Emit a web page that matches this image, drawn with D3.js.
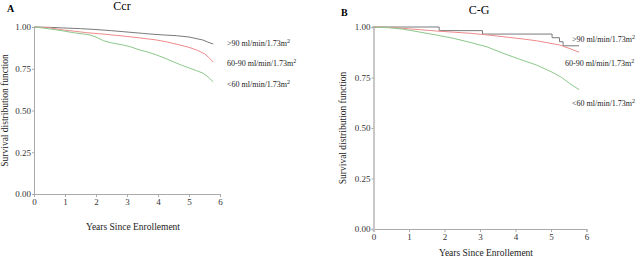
<!DOCTYPE html>
<html>
<head>
<meta charset="utf-8">
<script src="https://cdn.jsdelivr.net/npm/d3@7"></script>
<style>
  body { margin: 0; background: #fff; }
  svg { display: block; font-family: "Liberation Serif", "DejaVu Serif", serif; }
</style>
</head>
<body>
<div id="chart"></div>
<script>
// years / survival
var xTicks = [0, 1, 2, 3, 4, 5, 6];
var yTicks = [0, 0.25, 0.5, 0.75, 1];
var groupLabels = [">90 ml/min/1.73m", "60-90 ml/min/1.73m", "<60 ml/min/1.73m"];

var ccrHighT = [0, 0.5, 1.0, 1.5, 1.9, 2.5, 3.0, 3.5, 3.74, 4.2, 4.6, 5.0, 5.45, 5.6, 5.78];
var ccrHighS = [1, 0.998, 0.994, 0.99, 0.986, 0.978, 0.97, 0.962, 0.958, 0.952, 0.948, 0.94, 0.922, 0.91, 0.898];
var ccrMidT = [0, 0.5, 0.95, 1.3, 1.7, 2.2, 2.87, 3.4, 3.96, 4.3, 4.71, 5.0, 5.25, 5.5, 5.65, 5.78];
var ccrMidS = [1, 0.995, 0.982, 0.975, 0.966, 0.958, 0.946, 0.935, 0.922, 0.91, 0.892, 0.878, 0.862, 0.84, 0.815, 0.79];
var ccrLowT = [0, 0.25, 0.52, 0.9, 1.27, 1.6, 1.81, 2.0, 2.24, 2.5, 2.88, 3.1, 3.42, 3.7, 3.96, 4.2, 4.49, 4.75, 5.03, 5.25, 5.46, 5.62, 5.78];
var ccrLowS = [1, 0.995, 0.988, 0.978, 0.966, 0.958, 0.952, 0.94, 0.918, 0.905, 0.892, 0.882, 0.862, 0.848, 0.832, 0.815, 0.792, 0.772, 0.753, 0.738, 0.723, 0.7, 0.672];

var cgHighT = [0, 1.85, 3.07, 5.03, 5.24, 5.34, 5.79];
var cgHighS = [1, 0.982, 0.965, 0.947, 0.927, 0.907, 0.907];
var cgMidT = [0, 0.4, 0.84, 1.3, 1.78, 2.2, 2.72, 3.2, 3.65, 4.1, 4.59, 4.9, 5.24, 5.5, 5.79];
var cgMidS = [1, 0.998, 0.993, 0.987, 0.98, 0.975, 0.969, 0.961, 0.952, 0.943, 0.932, 0.922, 0.911, 0.895, 0.875];
var cgLowT = [0, 0.47, 0.84, 1.3, 1.78, 2.25, 2.72, 3.19, 3.65, 4.12, 4.59, 5.06, 5.3, 5.52, 5.79];
var cgLowS = [1, 0.996, 0.989, 0.975, 0.96, 0.944, 0.924, 0.902, 0.87, 0.84, 0.812, 0.774, 0.75, 0.721, 0.69];

var colors = ["#7a7a7a", "#f08a8a", "#8cc88c"];

var svg = d3.select("#chart").append("svg")
    .attr("width", 640)
    .attr("height", 259);

function zip(t, s) {
    return t.map(function(d, i) { return [d, s[i]]; });
}

function panel(opt) {
    var x = d3.scaleLinear().domain([0, 6]).range([opt.x0, opt.x1]);
    var y = d3.scaleLinear().domain([0, 1]).range([opt.y0, opt.y1]);

    var g = svg.append("g");

    var xAxis = g.append("g")
        .attr("transform", "translate(0," + opt.y0 + ")")
        .call(d3.axisBottom(x).tickValues(xTicks).tickSize(3).tickPadding(2).tickFormat(d3.format("d")));
    var yAxis = g.append("g")
        .attr("transform", "translate(" + opt.x0 + ",0)")
        .call(d3.axisLeft(y).tickValues(yTicks).tickSize(2).tickPadding(1).tickFormat(d3.format(".2f")));

    [xAxis, yAxis].forEach(function(a) {
        a.select(".domain").attr("stroke", "#aaa");
        a.selectAll(".tick line").attr("stroke", "#aaa");
        a.selectAll("text")
            .attr("fill", "#333")
            .style("font-family", "Liberation Serif")
            .style("font-size", "9px");
    });
    yAxis.select(".domain").attr("stroke", opt.yAxisColor).attr("stroke-width", opt.yAxisWidth);

    opt.series.forEach(function(s, i) {
        var line = d3.line()
            .x(function(d) { return x(d[0]); })
            .y(function(d) { return y(d[1]); })
            .curve(opt.steps[i] ? d3.curveStepAfter : d3.curveLinear);
        g.append("path")
            .attr("d", line(s))
            .attr("fill", "none")
            .attr("stroke", colors[i])
            .attr("stroke-width", 1);
    });

    g.append("text")
        .attr("x", opt.letterX).attr("y", opt.letterY)
        .style("font-size", "10px").style("font-weight", "bold")
        .text(opt.letter);
    g.append("text")
        .attr("x", opt.titleX).attr("y", opt.titleY)
        .attr("text-anchor", "middle")
        .style("font-size", "12px")
        .text(opt.title);

    g.append("text")
        .attr("x", (opt.x0 + opt.x1) / 2 + 6).attr("y", opt.xLabelY)
        .attr("text-anchor", "middle")
        .style("font-size", "9.5px")
        .attr("fill", "#222")
        .text("Years Since Enrollement");

    g.append("text")
        .attr("transform", "translate(" + opt.yLabelX + "," + (opt.y0 + opt.y1) / 2 + ") rotate(-90)")
        .attr("text-anchor", "middle")
        .style("font-size", "9.5px")
        .attr("fill", "#222")
        .text("Survival distribution function");

    groupLabels.forEach(function(lab, i) {
        var t = g.append("text")
            .attr("x", opt.legX[i]).attr("y", opt.legY[i] + 3)
            .style("font-size", "8px")
            .attr("fill", "#222")
            .text(lab);
        t.append("tspan")
            .attr("dy", -3)
            .style("font-size", "6px")
            .text("2");
    });
}

panel({
    x0: 34, x1: 220, y0: 194, y1: 27,
    yAxisColor: "#aaa", yAxisWidth: 1,
    series: [zip(ccrHighT, ccrHighS), zip(ccrMidT, ccrMidS), zip(ccrLowT, ccrLowS)],
    steps: [false, false, false],
    letter: "A", letterX: 7, letterY: 12,
    title: "Ccr", titleX: 122, titleY: 10,
    xLabelY: 230, yLabelX: 8,
    legX: [227, 227, 227], legY: [43, 63, 84]
});

panel({
    x0: 373.5, x1: 586.5, y0: 229, y1: 27,
    yAxisColor: "#c8c8c8", yAxisWidth: 2,
    series: [zip(cgHighT, cgHighS), zip(cgMidT, cgMidS), zip(cgLowT, cgLowS)],
    steps: [true, false, false],
    letter: "B", letterX: 341, letterY: 16,
    title: "C-G", titleX: 479, titleY: 14,
    xLabelY: 256, yLabelX: 346,
    legX: [572, 565, 572], legY: [39, 63, 103]
});
</script>
</body>
</html>
